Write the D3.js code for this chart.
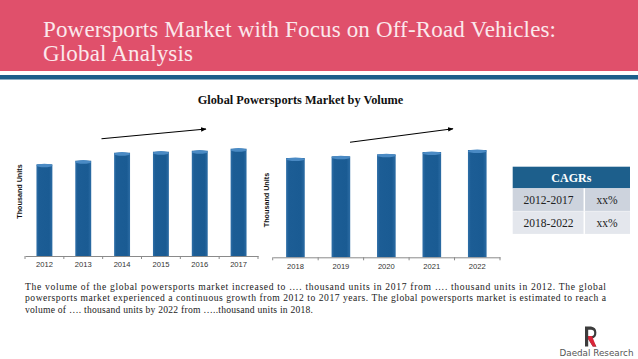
<!DOCTYPE html>
<html><head><meta charset="utf-8">
<script src="https://cdn.jsdelivr.net/npm/d3@7"></script>
<style>html,body{margin:0;padding:0;background:#fff;}svg{display:block;}</style>
</head><body>
<script>
const headerTitle = ["Powersports Market with Focus on Off-Road Vehicles:", "Global Analysis"];
const chartTitle = "Global Powersports Market by Volume";
const yLabel = "Thousand Units";
const histYears = ["2012","2013","2014","2015","2016","2017"];
const histValues = [917, 953, 1033, 1043, 1053, 1073];
const fcstYears = ["2018","2019","2020","2021","2022"];
const fcstValues = [993, 1010, 1030, 1053, 1073];
const cagrHeader = "CAGRs";
const cagrPeriods = ["2012-2017","2018-2022"];
const cagrValues = ["xx%","xx%"];
const paragraph = [
 "The volume of the global powersports market increased to \u2026. thousand units in 2017 from \u2026. thousand units in 2012. The global",
 "powersports market experienced a continuous growth from 2012 to 2017 years. The global powersports market is estimated to reach a",
 "volume of \u2026. thousand units by 2022 from \u2026..thousand units in 2018."
];

const W = 638, H = 359;
const svg = d3.select("body").append("svg").attr("width", W).attr("height", H);
const serif = "'Palatino Linotype','Book Antiqua',Palatino,'Liberation Serif','DejaVu Serif',serif";
const sans = "'Liberation Sans',Arial,'DejaVu Sans',sans-serif";

// header
svg.append("rect").attr("x",0).attr("y",0).attr("width",W).attr("height",71).attr("fill","#e0506b");
svg.append("rect").attr("x",0).attr("y",75).attr("width",W).attr("height",4.5).attr("fill","#1d5f8c");
const titleLens = [513, 150];
svg.append("g").selectAll("text").data(headerTitle).join("text")
  .attr("x",43).attr("y",(d,i)=>37+i*23.5)
  .attr("font-family",serif).attr("font-size",23).attr("fill","#fbe8ec")
  .attr("textLength",(d,i)=>titleLens[i]).attr("lengthAdjust","spacing").text(d=>d);

svg.append("text").attr("x",300.5).attr("y",103.5).attr("text-anchor","middle")
  .attr("font-family",serif).attr("font-weight","bold").attr("font-size",12.3).attr("fill","#111").text(chartTitle);

const defs = svg.append("defs");
const grad = defs.append("linearGradient").attr("id","barGrad").attr("x1","0").attr("x2","1").attr("y1","0").attr("y2","0");
grad.append("stop").attr("offset","0").attr("stop-color","#2f6fa8");
grad.append("stop").attr("offset","0.15").attr("stop-color","#1c5d95");
grad.append("stop").attr("offset","0.8").attr("stop-color","#1a5b93");
grad.append("stop").attr("offset","1").attr("stop-color","#2c6ca4");
defs.append("marker").attr("id","arrow").attr("viewBox","0 0 10 10").attr("refX",9).attr("refY",5)
  .attr("markerWidth",5).attr("markerHeight",5).attr("orient","auto")
  .append("path").attr("d","M0,1 L10,5 L0,9 Z").attr("fill","#000");

function drawChart(years, values, x0, x1, base, yLabX, yLabY, arrow) {
  const x = d3.scaleBand().domain(years).range([x0, x1]).paddingInner(0.59).paddingOuter(0.295);
  const y = d3.scaleLinear().domain([0, 1200]).range([base, base - 120]);
  const g = svg.append("g");
  const bars = g.selectAll("g.bar").data(years).join("g");
  bars.append("rect").attr("x",d=>x(d)).attr("y",(d,i)=>y(values[i])).attr("width",x.bandwidth())
    .attr("height",(d,i)=>base - y(values[i])).attr("fill","url(#barGrad)");
  bars.append("ellipse").attr("cx",d=>x(d)+x.bandwidth()/2).attr("cy",(d,i)=>y(values[i])+1.2)
    .attr("rx",x.bandwidth()/2).attr("ry",1.8).attr("fill","#4a8ac4");
  const ax = g.append("g").attr("transform",`translate(0,${base})`)
    .call(d3.axisBottom(x).tickSize(0).tickPadding(6));
  ax.select(".domain").attr("stroke","#8a8a8a").attr("stroke-width",1);
  ax.selectAll("text").attr("font-family",sans).attr("font-size",7.6).attr("fill","#333");
  const bounds = [x0].concat(years.map(d=>x(d)-x.step()*x.paddingInner()/2 + x.step()));
  g.selectAll("line.bt").data(bounds).join("line").attr("x1",d=>d).attr("x2",d=>d)
    .attr("y1",base).attr("y2",base+3).attr("stroke","#8a8a8a");
  g.append("text").attr("transform",`translate(${yLabX},${yLabY}) rotate(-90)`).attr("text-anchor","middle")
    .attr("font-family",sans).attr("font-weight","bold").attr("font-size",7.2).attr("fill","#111").text(yLabel);
  g.append("line").attr("x1",arrow[0]).attr("y1",arrow[1]).attr("x2",arrow[2]).attr("y2",arrow[3])
    .attr("stroke","#000").attr("stroke-width",1.1).attr("marker-end","url(#arrow)");
}
drawChart(histYears, histValues, 25, 258, 256, 22, 191.5, [101.5,138.7,206,129]);
drawChart(fcstYears, fcstValues, 272.7, 500, 257.3, 269, 200, [350,142.3,453,128.7]);

// CAGR table
const tx0 = 512.7, tx1 = 630, tdiv = 584.3;
svg.append("rect").attr("x",tx0).attr("y",166.7).attr("width",tx1-tx0).attr("height",21.6).attr("fill","#1d5f8c");
svg.append("text").attr("x",(tx0+tx1)/2).attr("y",181.5).attr("text-anchor","middle").attr("font-family",serif)
  .attr("font-weight","bold").attr("font-size",12).attr("fill","#fff").text(cagrHeader);
const rowFill = ["#cdd3dd","#e4e7ed"];
const rows = svg.append("g").selectAll("g").data(cagrPeriods).join("g");
rows.append("rect").attr("x",tx0).attr("y",(d,i)=>188.3+i*23).attr("width",tx1-tx0).attr("height",22.6)
  .attr("fill",(d,i)=>rowFill[i]);
rows.append("line").attr("x1",tdiv).attr("x2",tdiv).attr("y1",(d,i)=>188.3+i*23).attr("y2",(d,i)=>210.9+i*23)
  .attr("stroke","#fff").attr("stroke-width",1.5);
rows.append("text").attr("x",(tx0+tdiv)/2).attr("y",(d,i)=>203.5+i*23).attr("text-anchor","middle")
  .attr("font-family",serif).attr("font-size",11.5).attr("fill","#222").text(d=>d);
rows.append("text").attr("x",(tdiv+tx1)/2).attr("y",(d,i)=>203.5+i*23).attr("text-anchor","middle")
  .attr("font-family",serif).attr("font-size",11.5).attr("fill","#222").text((d,i)=>cagrValues[i]);

// paragraph
const paraLens = [581, 581, 288];
svg.append("g").selectAll("text").data(paragraph).join("text")
  .attr("x",25).attr("y",(d,i)=>289.5+i*11.6)
  .attr("font-family",serif).attr("font-size",9.6).attr("fill","#222")
  .attr("textLength",(d,i)=>paraLens[i]).attr("lengthAdjust","spacing")
  .text(d=>d);

// logo
const lg = svg.append("g").attr("transform","translate(585,326.5)");
lg.append("path").attr("d","M0,0 H6 A6.2,6.2 0 0 1 6.5,12.2 L11.5,20 H7.8 L3.2,12.6 V20 H0 Z").attr("fill","#3c3c3c");
lg.append("path").attr("d","M3.2,3.2 H6 A3.2,3.2 0 0 1 6,9.6 H3.2 Z").attr("fill","#fff");
lg.append("path").attr("d","M3.2,9.6 H7 L11.2,20 H7.8 L3.2,12.6 Z").attr("fill","#d9263a");
svg.append("text").attr("x",559.5).attr("y",356)
  .attr("font-family","'DejaVu Sans',sans-serif").attr("font-size",8.4).attr("fill","#555")
  .attr("textLength",74).attr("lengthAdjust","spacingAndGlyphs").text("Daedal Research");
</script>
</body></html>
